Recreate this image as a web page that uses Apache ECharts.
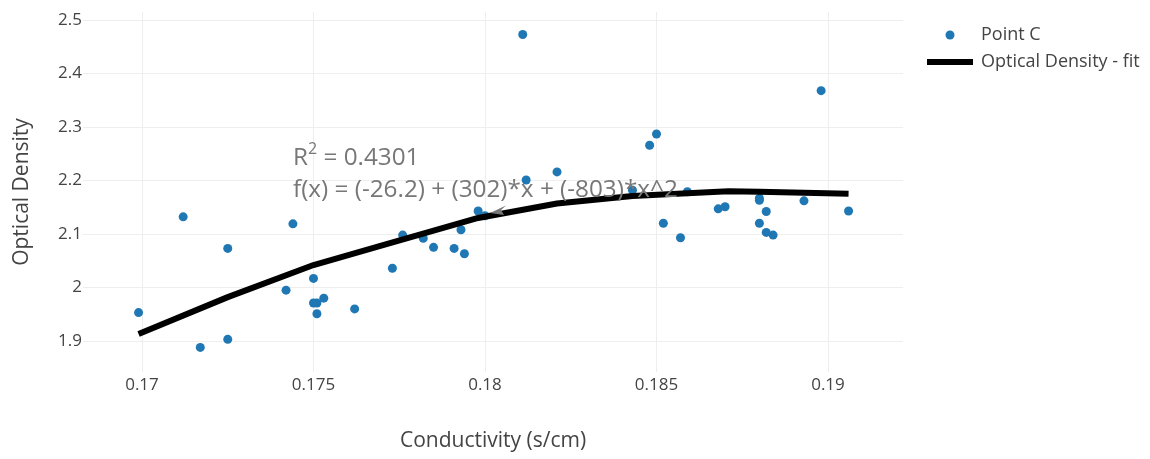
<!DOCTYPE html>
<html>
<head>
<meta charset="utf-8">
<script src="https://cdn.jsdelivr.net/npm/echarts@6/dist/echarts.min.js"></script>
<style>
html,body{margin:0;padding:0;background:#fff;}
#chart{width:1150px;height:459px;}
</style>
</head>
<body>
<div id="chart"></div>
<script>
// ---- data ----
const pointX = [0.1699, 0.1712, 0.1725, 0.1717, 0.1725, 0.1744, 0.1742, 0.1750, 0.1750, 0.1751,
                0.1753, 0.1751, 0.1762, 0.1773, 0.1776, 0.1782, 0.1785, 0.1791, 0.1794, 0.1793,
                0.1798, 0.1800, 0.1812, 0.1821, 0.1843, 0.1852, 0.1857, 0.1859, 0.1868, 0.1870,
                0.1880, 0.1880, 0.1882, 0.1880, 0.1882, 0.1884, 0.1893, 0.1906, 0.1811, 0.1848,
                0.1850, 0.1898];
const pointY = [1.953, 2.132, 2.073, 1.888, 1.903, 2.119, 1.995, 2.017, 1.971, 1.971,
                1.980, 1.951, 1.960, 2.036, 2.098, 2.092, 2.075, 2.073, 2.063, 2.108,
                2.143, 2.134, 2.201, 2.216, 2.182, 2.120, 2.093, 2.179, 2.147, 2.151,
                2.167, 2.163, 2.142, 2.120, 2.103, 2.098, 2.162, 2.143, 2.473, 2.266,
                2.287, 2.368];
const fitX = [0.1699, 0.1725, 0.1750, 0.1769, 0.1798, 0.1821, 0.1843, 0.1859, 0.1871, 0.1880, 0.1893, 0.1906];
const fitY = [1.913, 1.982, 2.042, 2.077, 2.130, 2.157, 2.171, 2.176, 2.180, 2.179, 2.177, 2.175];
const seriesNames = ['Point C', 'Optical Density - fit'];
const xTitle = 'Conductivity (s/cm)';
const yTitle = 'Optical Density';
const annotationR2 = ['R', '2', ' = 0.4301'];
const annotationFit = 'f(x) = (-26.2) + (302)*x + (-803)*x^2';
const xRange = [0.16828, 0.192187];
const yRange = [1.842, 2.515];

// ---- chart ----
const FONT = '"Open Sans", "DejaVu Sans", sans-serif';
const chart = echarts.init(document.getElementById('chart'), null, {renderer: 'canvas'});

function isNice(v, step) {
  const r = v / step;
  return Math.abs(r - Math.round(r)) < 1e-6;
}

const option = {
  animation: false,
  backgroundColor: '#fff',
  grid: {left: 83, right: 247, top: 12, bottom: 87, containLabel: false, outerBoundsMode: 'none'},
  xAxis: {
    type: 'value',
    min: xRange[0], max: xRange[1],
    splitNumber: 5,
    name: xTitle, nameLocation: 'middle', nameGap: 59,
    nameTextStyle: {fontFamily: FONT, fontSize: 21, color: '#444'},
    axisLine: {show: false},
    axisTick: {show: false},
    axisLabel: {
      fontFamily: FONT, fontSize: 17, color: '#444', margin: 5,
      formatter: v => isNice(v, 0.005) ? String(+v.toFixed(4)) : ''
    },
    splitLine: {show: true, showMinLine: false, showMaxLine: false, lineStyle: {color: '#eee', width: 1}}
  },
  yAxis: {
    type: 'value',
    min: yRange[0], max: yRange[1],
    splitNumber: 7,
    name: yTitle, nameLocation: 'middle', nameGap: 50,
    nameTextStyle: {fontFamily: FONT, fontSize: 21, color: '#444'},
    axisLine: {show: false},
    axisTick: {show: false},
    axisLabel: {
      fontFamily: FONT, fontSize: 17, color: '#444', margin: 1,
      formatter: v => isNice(v, 0.1) ? String(+v.toFixed(2)) : ''
    },
    splitLine: {show: true, showMinLine: false, showMaxLine: false, lineStyle: {color: '#eee', width: 1}}
  },
  legend: {
    orient: 'vertical',
    left: 927, top: 26,
    padding: 0,
    itemGap: 9,
    itemWidth: 46, itemHeight: 9,
    textStyle: {fontFamily: FONT, fontSize: 18, color: '#444', padding: [0, 0, 0, 3]},
    data: [
      {name: seriesNames[0], icon: 'circle'},
      {name: seriesNames[1], icon: 'path://M0,0L46,0L46,6L0,6Z', itemStyle: {color: '#000'}}
    ]
  },
  series: [
    {
      name: seriesNames[0],
      type: 'scatter',
      symbol: 'circle',
      symbolSize: 9,
      itemStyle: {color: '#1f77b4', opacity: 1},
      data: pointX.map((x, i) => [x, pointY[i]]),
      z: 2
    },
    {
      name: seriesNames[1],
      type: 'line',
      symbol: 'none',
      smooth: false,
      lineStyle: {color: '#000', width: 6, cap: 'butt', join: 'round'},
      itemStyle: {color: '#000'},
      data: fitX.map((x, i) => [x, fitY[i]]),
      z: 3
    }
  ],
  graphic: [
    {
      type: 'text', left: 293, top: 141, z: 10,
      style: {
        text: '{r|' + annotationR2[0] + '}{s|' + annotationR2[1] + '}{r|' + annotationR2[2] + '}',
        rich: {
          r: {font: '24.3px ' + FONT, fill: '#777', lineHeight: 34},
          s: {font: '16px ' + FONT, fill: '#777', lineHeight: 24, verticalAlign: 'top'}
        }
      }
    },
    {
      type: 'text', left: 293, top: 178, z: 10,
      style: {text: annotationFit, font: '24.3px ' + FONT, fill: '#777'}
    },
    {
      type: 'polygon', z: 10,
      shape: {points: [[490, 213], [506, 205.5], [501, 210], [504, 215]]},
      style: {fill: '#777'}
    }
  ]
};
chart.setOption(option);
</script>
</body>
</html>
